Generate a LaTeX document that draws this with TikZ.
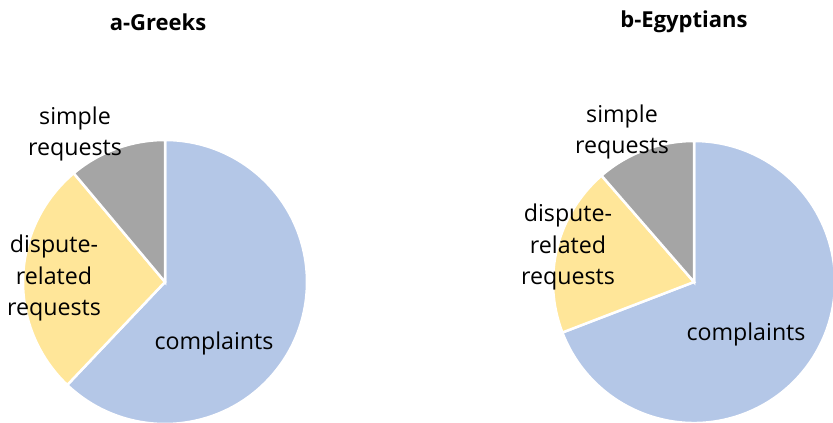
\documentclass[tikz,border=0pt]{standalone}
\usepackage{fontspec}
\setmainfont{Open Sans}
\definecolor{cplblue}{HTML}{B4C7E7}
\definecolor{dspyellow}{HTML}{FFE699}
\definecolor{smpgray}{HTML}{A5A5A5}

\begin{document}
\begin{tikzpicture}[x=1pt,y=1pt,
    slice/.style={draw=white,line width=2.5pt,line join=miter},
    lbl/.style={align=center,inner sep=0pt,font=\fontsize{23.2}{31.5}\selectfont},
    ttl/.style={inner sep=0pt,font=\bfseries\fontsize{22}{26}\selectfont}]
  \useasboundingbox (0,0) rectangle (833,423);
  \clip (0,0) rectangle (833,423);

  % a-Greeks
  \coordinate (ga) at (165,141);
  \filldraw[slice,fill=cplblue] (ga) -- ++(226.5:142) arc[start angle=226.5,end angle=450,radius=142] -- cycle;
  \filldraw[slice,fill=dspyellow] (ga) -- ++(130:142) arc[start angle=130,end angle=226.5,radius=142] -- cycle;
  \filldraw[slice,fill=smpgray] (ga) -- ++(90:142) arc[start angle=90,end angle=130,radius=142] -- cycle;
  \node[ttl] (gtitle) at (158,401) {a-Greeks};
  \node[lbl] (gsimple) at (75,289) {simple\\requests};
  \node[lbl] (gdispute) at (54,145) {dispute-\\related\\requests};
  \node[lbl] (gcompl) at (214,80) {complaints};

  % b-Egyptians
  \coordinate (eg) at (694,141);
  \filldraw[slice,fill=cplblue] (eg) -- ++(201:141) arc[start angle=201,end angle=450,radius=141] -- cycle;
  \filldraw[slice,fill=dspyellow] (eg) -- ++(131:141) arc[start angle=131,end angle=201,radius=141] -- cycle;
  \filldraw[slice,fill=smpgray] (eg) -- ++(90:141) arc[start angle=90,end angle=131,radius=141] -- cycle;
  \node[ttl] (etitle) at (684,401) {b-Egyptians};
  \node[lbl] (esimple) at (622,291) {simple\\requests};
  \node[lbl] (edispute) at (568,176) {dispute-\\related\\requests};
  \node[lbl] (ecompl) at (746,89) {complaints};
\end{tikzpicture}
\end{document}
